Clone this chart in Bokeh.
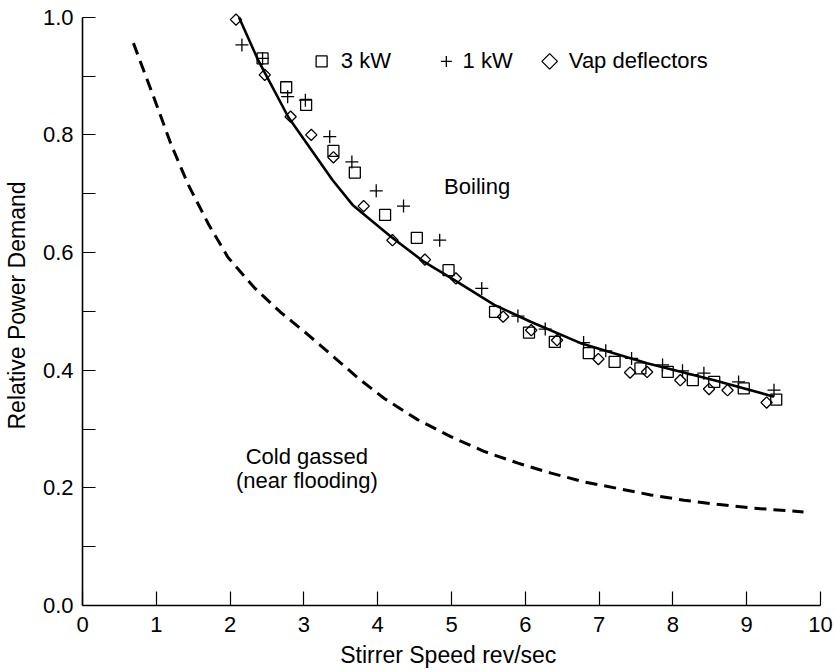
import math
from bokeh.plotting import figure
from bokeh.models import Range1d, FixedTicker, PrintfTickFormatter, Label
from bokeh.embed import file_html
from bokeh.resources import INLINE

# ---- data ----
boil_x = [2.12, 2.38, 2.79, 3.39, 3.66, 4.18, 4.63, 5.04, 5.58, 6.08, 6.75, 7.65, 8.56, 9.37]
boil_y = [1.0, 0.927, 0.830, 0.723, 0.681, 0.627, 0.584, 0.553, 0.511, 0.482, 0.446, 0.412, 0.383, 0.355]

cold_x = [0.69, 0.96, 1.20, 1.43, 1.70, 1.97, 2.33, 2.69, 3.05, 3.41, 3.75, 4.09, 4.54,
          4.99, 5.44, 5.90, 6.35, 6.80, 7.25, 7.70, 8.15, 8.60, 9.05, 9.77]
cold_y = [0.956, 0.866, 0.784, 0.716, 0.650, 0.592, 0.540, 0.498, 0.461, 0.422, 0.385, 0.352, 0.316,
          0.287, 0.262, 0.242, 0.225, 0.210, 0.199, 0.188, 0.179, 0.172, 0.166, 0.159]

kw3_x = [2.44, 2.76, 3.03, 3.40, 3.69, 4.10, 4.53, 4.96, 5.59, 6.05, 6.40, 6.86, 7.21, 7.56, 7.93, 8.27, 8.56, 8.96, 9.40]
kw3_y = [0.930, 0.881, 0.851, 0.773, 0.736, 0.664, 0.625, 0.570, 0.499, 0.464, 0.448, 0.429, 0.414, 0.403, 0.397, 0.383, 0.380, 0.369, 0.350]

kw1_x = [2.16, 2.44, 2.78, 3.02, 3.35, 3.65, 3.98, 4.35, 4.84, 5.41, 5.90, 6.27, 6.79, 7.09, 7.44, 7.86, 8.13, 8.42, 8.89, 9.37]
kw1_y = [0.953, 0.930, 0.865, 0.859, 0.797, 0.754, 0.705, 0.679, 0.621, 0.539, 0.492, 0.470, 0.447, 0.433, 0.420, 0.409, 0.399, 0.395, 0.380, 0.366]

vap_x = [2.08, 2.47, 2.82, 3.10, 3.40, 3.81, 4.20, 4.64, 5.06, 5.70, 6.08, 6.43, 6.99, 7.42, 7.65, 8.10, 8.49, 8.74, 9.27]
vap_y = [0.996, 0.902, 0.831, 0.800, 0.762, 0.679, 0.621, 0.588, 0.556, 0.491, 0.468, 0.451, 0.419, 0.396, 0.397, 0.383, 0.368, 0.366, 0.345]

x_ticks = [0, 1, 2, 3, 4, 5, 6, 7, 8, 9, 10]
y_ticks = [0.0, 0.2, 0.4, 0.6, 0.8, 1.0]
y_minor = [0.1, 0.3, 0.5, 0.7, 0.9]

series_names = ["3 kW", "1 kW", "Vap deflectors"]

# ---- layout / style ----
FONT = "Liberation Sans"
BLACK = "#000000"
MLW = 1.3

p = figure(width=836, height=672, x_range=Range1d(0, 10), y_range=Range1d(0, 1.02),
           output_backend="svg", toolbar_location=None,
           min_border_left=81, min_border_right=16, min_border_top=5, min_border_bottom=67)
p.outline_line_color = None
p.grid.visible = False
p.background_fill_color = "white"
p.border_fill_color = "white"

for ax in (p.xaxis[0], p.yaxis[0]):
    ax.axis_line_width = 1.6
    ax.axis_line_color = BLACK
    ax.major_tick_in = 14
    ax.major_tick_out = 0
    ax.major_tick_line_width = 1.2
    ax.major_tick_line_color = BLACK
    ax.major_label_text_font = FONT
    ax.major_label_text_font_size = "22px"
    ax.major_label_text_color = BLACK
    ax.axis_label_text_font = FONT
    ax.axis_label_text_font_style = "normal"
    ax.axis_label_text_color = BLACK

p.xaxis.ticker = FixedTicker(ticks=x_ticks)
p.xaxis.minor_tick_line_color = None
p.xaxis.major_label_standoff = 11
p.xaxis.axis_label = "Stirrer Speed  rev/sec"
p.xaxis.axis_label_text_font_size = "23px"
p.xaxis.axis_label_standoff = 7

p.yaxis.ticker = FixedTicker(ticks=y_ticks, minor_ticks=y_minor)
p.yaxis.bounds = (0, 1)
p.yaxis.formatter = PrintfTickFormatter(format="%.1f")
p.yaxis.major_tick_in = 13
p.yaxis.minor_tick_in = 13
p.yaxis.minor_tick_out = 0
p.yaxis.minor_tick_line_width = 1.2
p.yaxis.minor_tick_line_color = BLACK
p.yaxis.major_label_standoff = 9
p.yaxis.axis_label = "Relative Power Demand"
p.yaxis.axis_label_text_font_size = "23px"
p.yaxis.axis_label_standoff = 10

# curves
p.line(cold_x, cold_y, line_color=BLACK, line_width=3, line_dash="12 7")
p.line(boil_x, boil_y, line_color=BLACK, line_width=2.6)

# markers
p.scatter(kw3_x, kw3_y, marker="square", size=11, fill_color=None, line_color=BLACK, line_width=MLW)
p.scatter(kw1_x, kw1_y, marker="cross", size=13, line_color=BLACK, line_width=MLW)
p.scatter(vap_x, vap_y, marker="square", size=8, angle=math.pi / 4, fill_color=None,
          line_color=BLACK, line_width=MLW)

# legend (drawn in place, at the top of the plot)
LEG_Y = 0.925
LEG_TEXT_Y = 0.927
leg_marker_x = [3.24, 4.93, 6.33]
leg_text_x = [3.50, 5.15, 6.59]
p.scatter([leg_marker_x[0]], [LEG_Y], marker="square", size=11, fill_color=None, line_color=BLACK, line_width=MLW)
p.scatter([leg_marker_x[1]], [LEG_Y], marker="cross", size=11, line_color=BLACK, line_width=MLW)
p.scatter([leg_marker_x[2]], [LEG_Y], marker="square", size=11, angle=math.pi / 4, fill_color=None,
          line_color=BLACK, line_width=MLW)
for tx, name in zip(leg_text_x, series_names):
    p.add_layout(Label(x=tx, y=LEG_TEXT_Y, text=name, text_font=FONT, text_font_size="22px",
                       text_color=BLACK, text_baseline="alphabetic", text_align="left"))

# annotations
p.add_layout(Label(x=4.90, y=0.712, text="Boiling", text_font=FONT, text_font_size="22px",
                   text_color=BLACK, text_baseline="alphabetic", text_align="left"))
p.add_layout(Label(x=3.04, y=0.254, text="Cold gassed", text_font=FONT, text_font_size="22px",
                   text_color=BLACK, text_baseline="alphabetic", text_align="center"))
p.add_layout(Label(x=3.04, y=0.212, text="(near flooding)", text_font=FONT, text_font_size="22px",
                   text_color=BLACK, text_baseline="alphabetic", text_align="center"))

open("out.html", "w").write(file_html(p, INLINE))
